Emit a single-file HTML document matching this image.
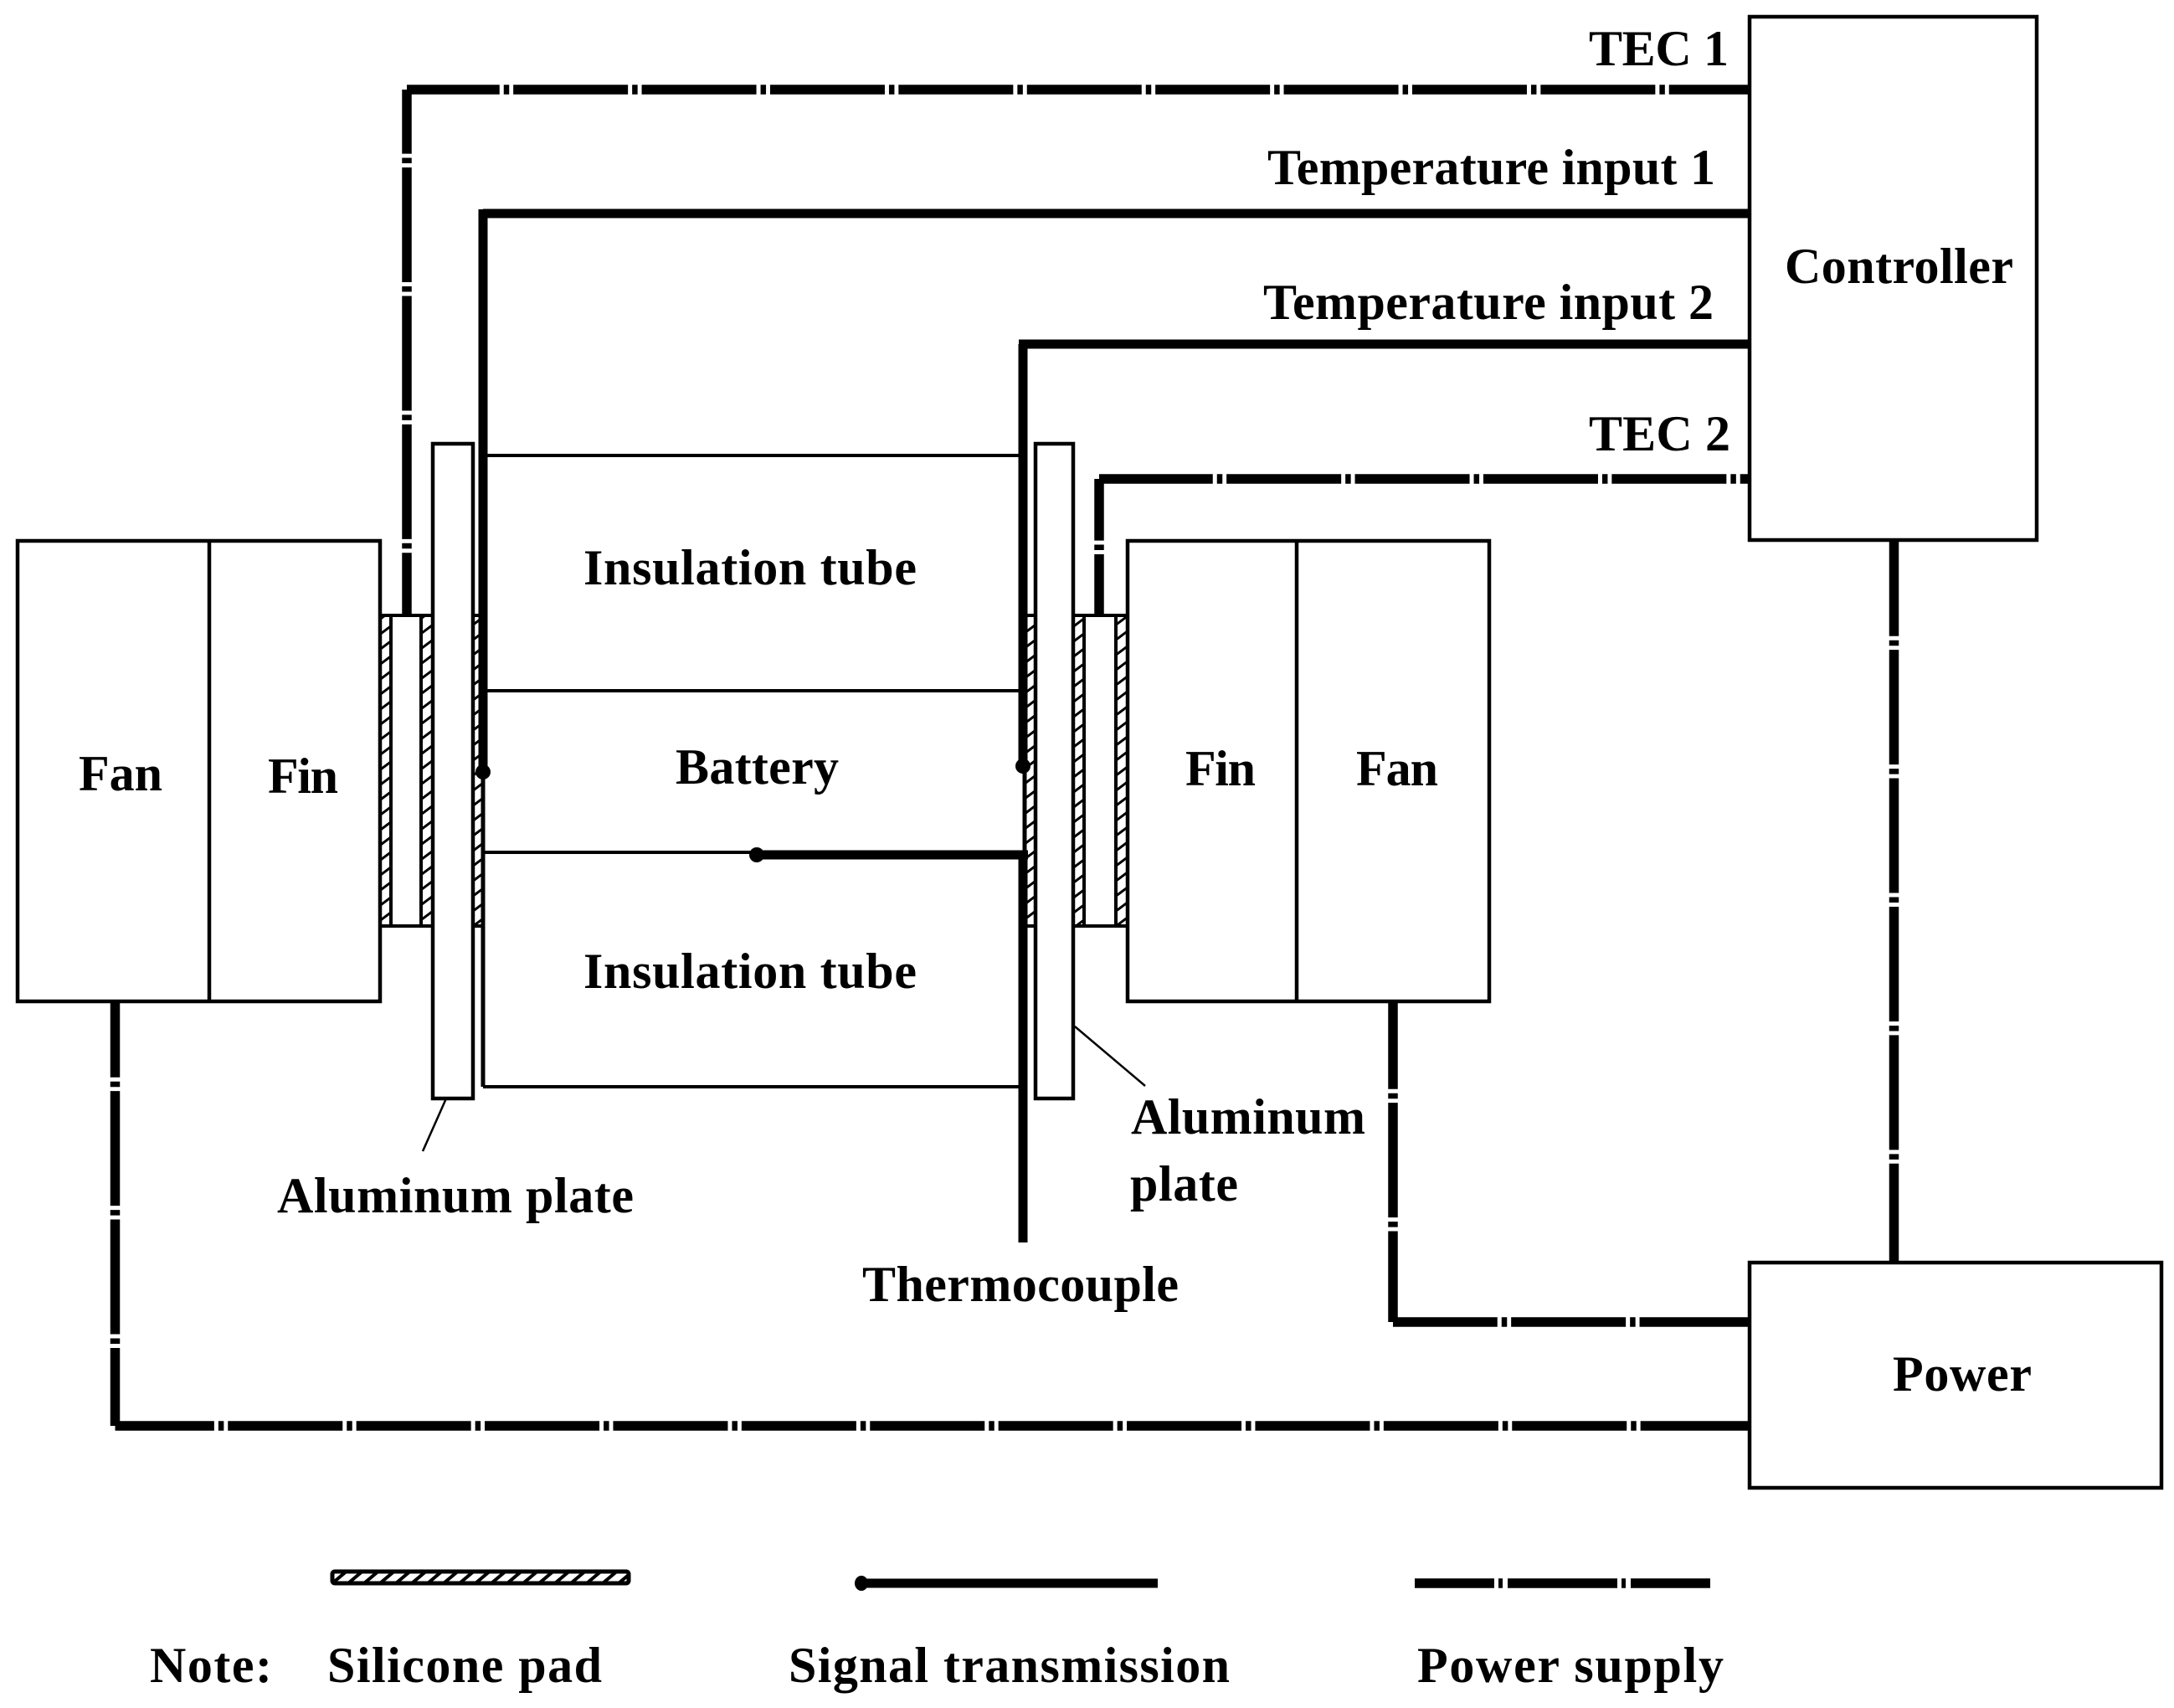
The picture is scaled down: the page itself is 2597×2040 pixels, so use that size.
<!DOCTYPE html>
<html><head><meta charset="utf-8"><style>
html,body{margin:0;padding:0;background:#fff}
svg{display:block}
text{font-family:"Liberation Serif",serif;font-weight:bold;font-size:60px;fill:#000}
.b{fill:none;stroke:#000;stroke-width:4.5}
.t{stroke:#000;stroke-width:4;fill:none}
.s{stroke:#000;stroke-width:11;fill:none}
.p{stroke:#000;stroke-width:11.5;fill:none;stroke-dasharray:137 5 6.5 4.9}
</style></head><body>
<svg width="2597" height="2040" viewBox="0 0 2597 2040" xmlns="http://www.w3.org/2000/svg">
<defs>
<pattern id="h" patternUnits="userSpaceOnUse" width="24" height="18">
<path d="M0 18L24 0M-12 9L12 -9M12 27L36 9" stroke="#000" stroke-width="3" fill="none"/>
</pattern>
<pattern id="g" patternUnits="userSpaceOnUse" width="19" height="16" x="397" y="1875">
<path d="M0 16L19 0M-9.5 8L9.5 -8M9.5 24L28.5 8" stroke="#000" stroke-width="4" fill="none"/>
</pattern>
</defs>
<rect width="2597" height="2040" fill="#fff"/>

<!-- silicone pads -->
<rect x="454" y="735" width="13" height="371" fill="url(#h)"/>
<rect x="503" y="735" width="14" height="371" fill="url(#h)"/>
<rect x="565" y="735" width="12" height="371" fill="url(#h)"/>
<rect x="1226" y="735" width="11" height="371" fill="url(#h)"/>
<rect x="1282" y="735" width="13" height="371" fill="url(#h)"/>
<rect x="1333" y="735" width="14" height="371" fill="url(#h)"/>

<!-- left fan/fin -->
<rect class="b" x="21" y="646" width="433" height="550"/>
<path class="b" d="M250 646V1196"/>
<!-- right fin/fan -->
<rect class="b" x="1347" y="646" width="432" height="550"/>
<path class="b" d="M1549 646V1196"/>
<!-- controller, power -->
<rect class="b" x="2090" y="20" width="343" height="625"/>
<rect class="b" x="2090" y="1508" width="492" height="269"/>

<!-- plates -->
<rect class="b" x="517" y="530" width="48" height="782"/>
<rect class="b" x="1237" y="530" width="45" height="782"/>

<!-- pad frames -->
<path class="t" d="M454 735H517M454 1106H517M467 735V1106M503 735V1106M565 735H577M565 1106H577"/>
<path class="t" d="M1226 735H1237M1226 1106H1237M1282 735H1347M1282 1106H1347M1295 735V1106M1333 735V1106"/>

<!-- tube lines -->
<path class="t" d="M577 544H1222M577 825H1222M577 1018H904M577 1298H1222"/>
<path stroke="#000" stroke-width="5" fill="none" d="M577 922V1298M1224 915V1020"/>

<!-- signal lines -->
<path class="s" d="M1222 411V915"/>
<path class="s" d="M577 255H2090"/>
<path class="s" d="M577 250V922"/>
<path class="s" d="M1217 411H2090"/>
<path class="s" d="M904 1021H1228"/>
<path class="s" d="M1222 1016V1484"/>
<ellipse cx="577" cy="922" rx="9" ry="9" fill="#000"/>
<ellipse cx="1222" cy="915" rx="9" ry="9" fill="#000"/>
<ellipse cx="904" cy="1021" rx="9" ry="9" fill="#000"/>

<!-- power lines -->
<path class="p" d="M486 735V107" stroke-dashoffset="62.25"/>
<path class="p" d="M486 107H2090" stroke-dashoffset="26.25"/>
<path class="p" d="M1313 735V572" stroke-dashoffset="64"/>
<path class="p" d="M1313 572H2090" stroke-dashoffset="1.25"/>
<path class="p" d="M2262.5 645V1507" stroke-dashoffset="22.25"/>
<path class="p" d="M1664 1196V1579" stroke-dashoffset="32.25"/>
<path class="p" d="M1664 1579H2090" stroke-dashoffset="12.25"/>
<path class="p" d="M137.5 1196V1703" stroke-dashoffset="46.25"/>
<path class="p" d="M137.5 1703H2090" stroke-dashoffset="18.65"/>

<!-- leaders -->
<path d="M533 1312L505 1375M1284 1226L1368 1297" stroke="#000" stroke-width="2.5" fill="none"/>

<!-- labels -->
<text x="1898" y="78" textLength="167">TEC 1</text>
<text x="1514" y="220" textLength="535">Temperature input 1</text>
<text x="1509" y="381" textLength="538">Temperature input 2</text>
<text x="1898" y="538" textLength="169">TEC 2</text>
<text x="2132" y="338" textLength="273">Controller</text>
<text x="697" y="698" textLength="398">Insulation tube</text>
<text x="807" y="936" textLength="195">Battery</text>
<text x="697" y="1180" textLength="398">Insulation tube</text>
<text x="94" y="944" textLength="100">Fan</text>
<text x="320" y="947" textLength="84">Fin</text>
<text x="1416" y="938" textLength="84">Fin</text>
<text x="1620" y="938" textLength="98">Fan</text>
<text x="331" y="1448" textLength="426">Aluminum plate</text>
<text x="1351" y="1354" textLength="280">Aluminum</text>
<text x="1350" y="1434" textLength="129">plate</text>
<text x="1030" y="1554" textLength="378">Thermocouple</text>
<text x="2261" y="1661" textLength="166">Power</text>
<text x="179" y="2009" textLength="146">Note:</text>
<text x="391" y="2009" textLength="328">Silicone pad</text>
<text x="942" y="2009" textLength="527">Signal transmission</text>
<text x="1693" y="2009" textLength="366">Power supply</text>

<!-- legend -->
<rect x="397" y="1877" width="354" height="14" fill="url(#g)" stroke="#000" stroke-width="5" rx="3"/>
<path d="M1028 1891H1383" stroke="#000" stroke-width="11" fill="none"/>
<ellipse cx="1029" cy="1891" rx="8" ry="9" fill="#000"/>
<path d="M1690 1891H1785M1790 1891H1795M1801 1891H1932M1937 1891H1942M1948 1891H2043" stroke="#000" stroke-width="11.5" fill="none"/>
</svg>
</body></html>
